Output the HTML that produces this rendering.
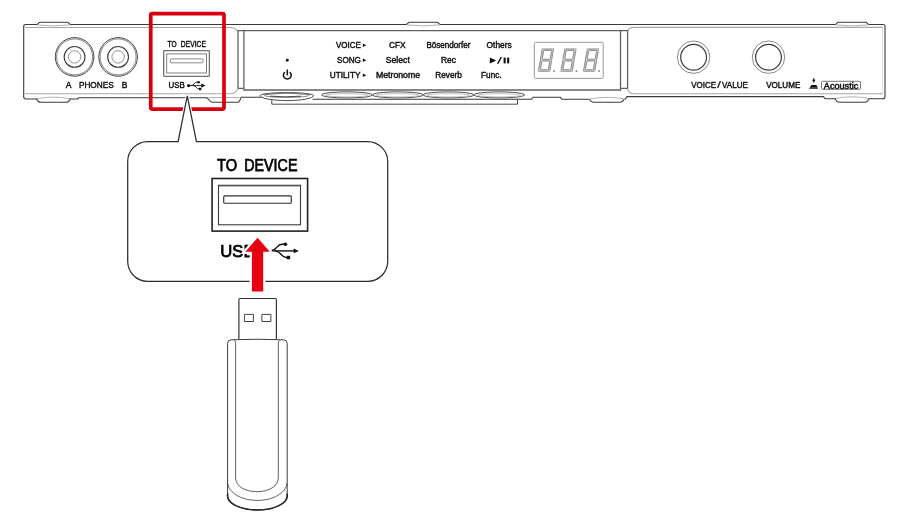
<!DOCTYPE html>
<html lang="en"><head><meta charset="utf-8"><title>USB TO DEVICE connection</title>
<style>
html,body{margin:0;padding:0;background:#fff}
body{width:900px;height:520px;overflow:hidden}
svg{display:block}
svg text{filter:grayscale(1)}
svg text{font-family:"Liberation Sans",Arial,Helvetica,sans-serif}
</style></head><body>
<svg width="900" height="520" viewBox="0 0 900 520">
<rect width="900" height="520" fill="#fff"/>
<!-- instrument panel outline -->
<g fill="none" stroke="#3a3a3a" stroke-width="1.1" stroke-linejoin="round" stroke-linecap="round">
<path d="M25.7 24.5 H883 Q885 24.5 885 26.5 V96.7 Q885 98.7 883 98.7 H825 L823.5 96.6 H627"/>
<path d="M25.7 24.5 Q23.7 24.5 23.7 26.5 V96.8 Q23.7 99 25.9 99 H77.5 L79 97.8 H207 "/>
<path d="M241 97.3 H261"/>
<path d="M313 99.3 H531.5 L533 97.2 H560.3 L561.8 99.2 H588.5"/>
<path d="M625.2 99.2 L627 96.7"/>
</g>
<g fill="#fff" stroke="#3a3a3a" stroke-width="1.1" stroke-linejoin="round" stroke-linecap="round">
<rect x="37.1" y="23" width="33.2" height="3" stroke="none"/>
<path d="M36.8 24.5 C38.1 24.4 38.3 22.3 40.3 22.3 H67.1 C69.1 22.3 69.3 24.4 70.6 24.5" />
<rect x="406.5" y="23" width="33.5" height="3" stroke="none"/>
<path d="M406.2 24.5 C407.5 24.4 407.7 22.3 409.7 22.3 H436.8 C438.8 22.3 439 24.4 440.3 24.5" />
<rect x="835.6" y="23" width="33.0" height="3" stroke="none"/>
<path d="M835.3 24.5 C836.6 24.4 836.8 22.3 838.8 22.3 H865.4 C867.4 22.3 867.6 24.4 868.9 24.5" />
<rect x="37.1" y="97.5" width="32.7" height="3" stroke="none"/>
<path d="M36.7 99 C37.5 101.4 38.9 102.3 41.1 102.3 H65.8 C68.0 102.3 69.4 101.4 70.2 99"/>
<rect x="590" y="97.7" width="33.7" height="3" stroke="none"/>
<path d="M589.6 99.2 C590.4 101.6 591.8 102.3 594 102.3 H619.7 C621.9 102.3 623.3 101.6 624.1 99.2"/>
<rect x="835.6" y="97.2" width="33.0" height="3" stroke="none"/>
<path d="M835.2 98.7 C836.0 101.1 837.4 102.3 839.6 102.3 H864.6 C866.8 102.3 868.2 101.1 869.0 98.7"/>
<path d="M206.5 97.8 C209.2 98 208.8 102.3 212.5 102.3 H237.8 C239.6 102.3 240.2 100 241 97.4"/>
</g>
<g fill="none" stroke="#a8a8a8" stroke-width="1.1">
<path d="M25 27.5 H231 Q235 27.8 238 31"/>
<path d="M25 93.7 H231 Q235 93.4 238 89"/>
<path d="M627.6 31 Q629 27.4 634 27.4 H883"/>
<path d="M627.6 89 Q629 93.7 634 93.7 H883"/>
<path d="M882.6 28 V93" stroke="#e4e4e4"/>
<path d="M208.5 97.6 H240.8" stroke-width="0.9"/>
<path d="M37.1 98.7 Q53.45 95.6 69.8 98.7" stroke-width="0.9"/>
<path d="M590 98.9 Q606.85 95.8 623.7 98.9" stroke-width="0.9"/>
<path d="M835.6 98.4 Q852.1 95.3 868.6 98.4" stroke-width="0.9"/>
<path d="M37.1 24.9 Q53.7 26.9 70.3 24.9" stroke-width="0.9"/>
<path d="M406.5 24.9 Q423.25 26.9 440 24.9" stroke-width="0.9"/>
<path d="M835.6 24.9 Q852.1 26.9 868.6 24.9" stroke-width="0.9"/>
</g>
<!-- centre control panel frame -->
<g fill="none" stroke="#606060" stroke-width="1.3">
<path d="M238 88.4 V30.7 H627.6 V88.4"/>
<path d="M243.9 30.7 V90 H620.5 V30.7"/>
<path d="M238 88.4 H243.9 M620.5 88.4 H627.6"/>
</g>
<!-- push buttons (seen edge-on) -->
<g fill="#fff" stroke="#3a3a3a" stroke-width="0.9">
<path d="M271.8 99.5 V104.2 H517.5 V99.5" fill="none"/>
<path d="M260.2 95.5 A26.7 2.9 0 0 1 313.6 95.5 A26.7 5.1 0 0 1 260.2 95.5Z"/>
<ellipse cx="286.6" cy="95.3" rx="22.3" ry="2.1" stroke="#6a6a6a" stroke-width="0.8"/>
<path d="M263 94.6 Q287 91.6 311 94.6" fill="none" stroke="#6a6a6a" stroke-width="0.7"/>
<path d="M270 96.2 Q286 97.4 301 96.2" fill="none" stroke="#3a3a3a" stroke-width="0.9"/>
<ellipse cx="347.00" cy="94.9" rx="25.4" ry="3"/>
<ellipse cx="347.00" cy="95.3" rx="21.5" ry="1.6" stroke="#a8a8a8" stroke-width="0.7"/>
<ellipse cx="397.75" cy="94.9" rx="25.4" ry="3"/>
<ellipse cx="397.75" cy="95.3" rx="21.5" ry="1.6" stroke="#a8a8a8" stroke-width="0.7"/>
<ellipse cx="448.50" cy="94.9" rx="25.4" ry="3"/>
<ellipse cx="448.50" cy="95.3" rx="21.5" ry="1.6" stroke="#a8a8a8" stroke-width="0.7"/>
<ellipse cx="499.25" cy="94.9" rx="25.4" ry="3"/>
<ellipse cx="499.25" cy="95.3" rx="21.5" ry="1.6" stroke="#a8a8a8" stroke-width="0.7"/>
</g>
<!-- headphone jacks -->
<circle cx="74.6" cy="56.9" r="19.3" fill="#fff" stroke="#444" stroke-width="1"/>
<circle cx="74.6" cy="56.9" r="18.0" fill="none" stroke="#666" stroke-width="0.8"/>
<circle cx="74.6" cy="56.9" r="10.4" fill="none" stroke="#3a3a3a" stroke-width="1.1"/>
<circle cx="74.6" cy="56.9" r="6.2" fill="none" stroke="#777" stroke-width="0.8"/>
<circle cx="118.1" cy="56.9" r="19.3" fill="#fff" stroke="#444" stroke-width="1"/>
<circle cx="118.1" cy="56.9" r="18.0" fill="none" stroke="#666" stroke-width="0.8"/>
<circle cx="118.1" cy="56.9" r="10.4" fill="none" stroke="#3a3a3a" stroke-width="1.1"/>
<circle cx="118.1" cy="56.9" r="6.2" fill="none" stroke="#777" stroke-width="0.8"/>
<!-- knobs -->
<circle cx="693.6" cy="57.2" r="16.2" fill="#fff" stroke="#6a6a6a" stroke-width="0.8"/>
<circle cx="693.6" cy="57.2" r="12.9" fill="none" stroke="#3a3a3a" stroke-width="1.2"/>
<circle cx="768.5" cy="57.2" r="16.2" fill="#fff" stroke="#6a6a6a" stroke-width="0.8"/>
<circle cx="768.5" cy="57.2" r="12.9" fill="none" stroke="#3a3a3a" stroke-width="1.2"/>
<!-- panel labels -->
<text x="65.80" y="88.20" font-size="8.6" font-weight="normal" textLength="5.70" lengthAdjust="spacingAndGlyphs" fill="#111" stroke="#111" stroke-width="0.42">A</text>
<text x="78.90" y="88.20" font-size="8.6" font-weight="normal" textLength="34.80" lengthAdjust="spacingAndGlyphs" fill="#111" stroke="#111" stroke-width="0.42">PHONES</text>
<text x="121.80" y="88.20" font-size="8.6" font-weight="normal" textLength="5.60" lengthAdjust="spacingAndGlyphs" fill="#111" stroke="#111" stroke-width="0.42">B</text>
<text x="167.50" y="47.10" font-size="8.3" font-weight="normal" textLength="9.00" lengthAdjust="spacingAndGlyphs" fill="#111" stroke="#111" stroke-width="0.42">TO</text>
<text x="180.80" y="47.10" font-size="8.3" font-weight="normal" textLength="25.10" lengthAdjust="spacingAndGlyphs" fill="#111" stroke="#111" stroke-width="0.42">DEVICE</text>
<text x="168.50" y="88.30" font-size="8.4" font-weight="normal" textLength="16.30" lengthAdjust="spacingAndGlyphs" fill="#111" stroke="#111" stroke-width="0.42">USB</text>
<text x="335.90" y="48.30" font-size="8.3" font-weight="normal" textLength="25.00" lengthAdjust="spacingAndGlyphs" fill="#111" stroke="#111" stroke-width="0.42">VOICE</text>
<text x="337.10" y="63.20" font-size="8.3" font-weight="normal" textLength="23.80" lengthAdjust="spacingAndGlyphs" fill="#111" stroke="#111" stroke-width="0.42">SONG</text>
<text x="329.80" y="78.40" font-size="8.3" font-weight="normal" textLength="30.60" lengthAdjust="spacingAndGlyphs" fill="#111" stroke="#111" stroke-width="0.42">UTILITY</text>
<text x="389.00" y="48.30" font-size="8.3" font-weight="normal" textLength="16.60" lengthAdjust="spacingAndGlyphs" fill="#111" stroke="#111" stroke-width="0.42">CFX</text>
<text x="385.80" y="63.20" font-size="8.3" font-weight="normal" textLength="24.00" lengthAdjust="spacingAndGlyphs" fill="#111" stroke="#111" stroke-width="0.42">Select</text>
<text x="376.00" y="78.40" font-size="8.3" font-weight="normal" textLength="44.00" lengthAdjust="spacingAndGlyphs" fill="#111" stroke="#111" stroke-width="0.42">Metronome</text>
<text x="426.40" y="48.30" font-size="8.3" font-weight="normal" textLength="44.00" lengthAdjust="spacingAndGlyphs" fill="#111" stroke="#111" stroke-width="0.42">Bösendorfer</text>
<text x="441.00" y="63.20" font-size="8.3" font-weight="normal" textLength="15.00" lengthAdjust="spacingAndGlyphs" fill="#111" stroke="#111" stroke-width="0.42">Rec</text>
<text x="435.30" y="78.40" font-size="8.3" font-weight="normal" textLength="26.50" lengthAdjust="spacingAndGlyphs" fill="#111" stroke="#111" stroke-width="0.42">Reverb</text>
<text x="486.60" y="48.30" font-size="8.3" font-weight="normal" textLength="25.10" lengthAdjust="spacingAndGlyphs" fill="#111" stroke="#111" stroke-width="0.42">Others</text>
<text x="481.10" y="78.40" font-size="8.3" font-weight="normal" textLength="20.50" lengthAdjust="spacingAndGlyphs" fill="#111" stroke="#111" stroke-width="0.42">Func.</text>
<text x="691.20" y="88.40" font-size="8.6" font-weight="normal" textLength="24.80" lengthAdjust="spacingAndGlyphs" fill="#111" stroke="#111" stroke-width="0.42">VOICE</text>
<text x="717.00" y="88.40" font-size="8.6" font-weight="normal" textLength="4.00" lengthAdjust="spacingAndGlyphs" fill="#111" stroke="#111" stroke-width="0.15">/</text>
<text x="722.10" y="88.40" font-size="8.6" font-weight="normal" textLength="25.70" lengthAdjust="spacingAndGlyphs" fill="#111" stroke="#111" stroke-width="0.42">VALUE</text>
<text x="766.20" y="88.40" font-size="8.6" font-weight="normal" textLength="34.10" lengthAdjust="spacingAndGlyphs" fill="#111" stroke="#111" stroke-width="0.42">VOLUME</text>
<text x="823.80" y="88.50" font-size="8.5" font-weight="normal" textLength="34.50" lengthAdjust="spacingAndGlyphs" fill="#111" stroke="#111" stroke-width="0.5">Acoustic</text>
<path d="M362.8 43.5 L366.3 45.3 L362.8 47.1Z" fill="#111"/>
<path d="M362.8 58.4 L366.3 60.2 L362.8 62.0Z" fill="#111"/>
<path d="M362.8 73.5 L366.3 75.3 L362.8 77.1Z" fill="#111"/>
<path d="M489.8 57.5 L496.3 60.5 L489.8 63.5Z" fill="#111"/>
<path d="M496.9 63.8 L500.5 57.1 H502.1 L498.5 63.8Z" fill="#111"/>
<rect x="503.6" y="57.6" width="2.1" height="5.8" fill="#111"/><rect x="507.1" y="57.6" width="2.1" height="5.8" fill="#111"/>
<circle cx="287.3" cy="60.2" r="1.45" fill="#111"/>
<path d="M284.9 72.1 A3.9 3.9 0 1 0 289.7 72.1" fill="none" stroke="#111" stroke-width="1.5"/>
<path d="M287.3 69.5 V75.4" stroke="#111" stroke-width="1.5"/>
<!-- 7-segment display -->
<rect x="534.3" y="42.3" width="68.9" height="36.1" rx="1.2" fill="#fff" stroke="#9a9a9a" stroke-width="1"/>
<path d="M542.99 49.75 L552.59 49.75 L549.01 70.55 L539.41 70.55Z M541.20 60.15 L550.80 60.15" fill="none" stroke="#848484" stroke-width="2.6" stroke-linejoin="miter"/>
<path d="M542.99 49.75 L552.59 49.75 L549.01 70.55 L539.41 70.55Z M541.20 60.15 L550.80 60.15" fill="none" stroke="#b8b8b8" stroke-width="1.2" stroke-linejoin="miter"/>
<path d="M541.49 48.25 L544.49 51.25 M554.09 48.25 L551.09 51.25 M537.91 72.05 L540.91 69.05 M550.51 72.05 L547.51 69.05 M542.60 58.85 L541.00 60.15 L542.60 61.45 M549.40 58.85 L551.00 60.15 L549.40 61.45" fill="none" stroke="#fff" stroke-width="0.45"/>
<rect x="553.2" y="70.2" width="1.7" height="1.7" fill="#8a8a8a"/>
<path d="M565.49 49.75 L575.09 49.75 L571.51 70.55 L561.91 70.55Z M563.70 60.15 L573.30 60.15" fill="none" stroke="#848484" stroke-width="2.6" stroke-linejoin="miter"/>
<path d="M565.49 49.75 L575.09 49.75 L571.51 70.55 L561.91 70.55Z M563.70 60.15 L573.30 60.15" fill="none" stroke="#b8b8b8" stroke-width="1.2" stroke-linejoin="miter"/>
<path d="M563.99 48.25 L566.99 51.25 M576.59 48.25 L573.59 51.25 M560.41 72.05 L563.41 69.05 M573.01 72.05 L570.01 69.05 M565.10 58.85 L563.50 60.15 L565.10 61.45 M571.90 58.85 L573.50 60.15 L571.90 61.45" fill="none" stroke="#fff" stroke-width="0.45"/>
<rect x="575.7" y="70.2" width="1.7" height="1.7" fill="#8a8a8a"/>
<path d="M587.99 49.75 L597.59 49.75 L594.01 70.55 L584.41 70.55Z M586.20 60.15 L595.80 60.15" fill="none" stroke="#848484" stroke-width="2.6" stroke-linejoin="miter"/>
<path d="M587.99 49.75 L597.59 49.75 L594.01 70.55 L584.41 70.55Z M586.20 60.15 L595.80 60.15" fill="none" stroke="#b8b8b8" stroke-width="1.2" stroke-linejoin="miter"/>
<path d="M586.49 48.25 L589.49 51.25 M599.09 48.25 L596.09 51.25 M582.91 72.05 L585.91 69.05 M595.51 72.05 L592.51 69.05 M587.60 58.85 L586.00 60.15 L587.60 61.45 M594.40 58.85 L596.00 60.15 L594.40 61.45" fill="none" stroke="#fff" stroke-width="0.45"/>
<rect x="598.2" y="70.2" width="1.7" height="1.7" fill="#8a8a8a"/>
<!-- USB TO DEVICE port on panel -->
<rect x="163.7" y="50.7" width="45.7" height="25.6" rx="0.8" fill="#fff" stroke="#707070" stroke-width="1.3"/>
<rect x="166.7" y="53.9" width="39.8" height="19.1" fill="none" stroke="#707070" stroke-width="0.9"/>
<rect x="170.4" y="58.9" width="32.7" height="3.9" rx="0.5" fill="none" stroke="#707070" stroke-width="0.8"/>
<g transform="translate(187.0,85.6) scale(1.0)" fill="#111" stroke="none"><circle cx="1.55" cy="0" r="1.55"/><path d="M1.5 0 H14.8" stroke="#111" stroke-width="0.9" fill="none"/><path d="M18.5 0 L14.3 -2.05 V2.05Z"/><path d="M4.0 0 C7 0 7.2 -3.4 9.8 -3.4 H11.2" stroke="#111" stroke-width="0.9" fill="none"/><circle cx="11.6" cy="-3.4" r="1.3"/><path d="M6.4 0 C9.2 0 9.4 3.4 12 3.4 H12.6" stroke="#111" stroke-width="0.9" fill="none"/><rect x="11.95" y="2.2" width="2.4" height="2.4"/></g>
<path d="M813.8 77.9 V80.2" stroke="#111" stroke-width="1.05"/>
<path d="M812.2 79.8 H815.4 L813.8 83.1Z" fill="#111"/>
<path d="M811.3 85.1 H816.4 L818.2 88.7 H809Z" fill="#111"/>
<path d="M809.6 87.7 H817.7" stroke="#fff" stroke-width="0.3"/>
<rect x="821.5" y="81.3" width="39" height="8" rx="1" fill="none" stroke="#555" stroke-width="0.8"/>
<!-- red highlight frame -->
<rect x="150.75" y="13.55" width="73.25" height="95.5" rx="1.6" fill="none" stroke="#d7000f" stroke-width="3.7"/>
<!-- enlarged callout -->
<path d="M178.1 141.5 L187.3 95.8 L196.4 141.5Z" fill="#fff" stroke="#fff" stroke-width="3.4" stroke-linejoin="miter"/>
<path d="M147.7 141.5 H178.1 L187.3 95.9 L196.4 141.5 H367.7 A20 20 0 0 1 387.7 161.5 V261.3 A20 20 0 0 1 367.7 281.3 H147.7 A20 20 0 0 1 127.7 261.3 V161.5 A20 20 0 0 1 147.7 141.5Z" fill="#fff" stroke="#2c2c2c" stroke-width="1.25" stroke-linejoin="miter"/>
<rect x="212.1" y="178.5" width="95.5" height="52.6" fill="#fff" stroke="#222" stroke-width="1.6"/>
<rect x="218.5" y="185.3" width="82" height="39.5" fill="none" stroke="#3a3a3a" stroke-width="1.1"/>
<path d="M218.5 186.1 H300.5" fill="none" stroke="#555" stroke-width="0.7"/>
<rect x="223.7" y="195.9" width="67.6" height="7.4" rx="1" fill="none" stroke="#2e2e2e" stroke-width="1.15"/>
<text x="217.00" y="171.10" font-size="16.8" font-weight="normal" textLength="20.10" lengthAdjust="spacingAndGlyphs" fill="#000" stroke="#000" stroke-width="0.75">TO</text>
<text x="244.30" y="171.10" font-size="16.8" font-weight="normal" textLength="53.10" lengthAdjust="spacingAndGlyphs" fill="#000" stroke="#000" stroke-width="0.75">DEVICE</text>
<text x="220.30" y="257.10" font-size="16.6" font-weight="normal" textLength="34.30" lengthAdjust="spacingAndGlyphs" fill="#000" stroke="#000" stroke-width="0.75">USB</text>
<g transform="translate(262.8,250.9) scale(1.95)" fill="#111" stroke="none"><circle cx="1.55" cy="0" r="1.55"/><path d="M1.5 0 H16.3" stroke="#111" stroke-width="0.72" fill="none"/><path d="M18.5 0 L15.8 -1.2 V1.2Z"/><path d="M4.0 0 C7 0 7.2 -3.4 9.8 -3.4 H11.2" stroke="#111" stroke-width="0.72" fill="none"/><circle cx="11.6" cy="-3.4" r="0.92"/><path d="M6.4 0 C9.2 0 9.4 3.4 12 3.4 H12.6" stroke="#111" stroke-width="0.72" fill="none"/><rect x="12.28" y="2.52" width="1.75" height="1.75"/></g>
<path d="M257.55 237.8 L269.8 251.7 H263.2 V291.5 H251.9 V251.7 H245.3Z" fill="#fff" stroke="#fff" stroke-width="4.4" stroke-linejoin="miter"/>
<path d="M257.55 237.8 L269.8 251.7 H263.2 V291.5 H251.9 V251.7 H245.3Z" fill="#e60012"/>
<!-- USB flash drive -->
<g fill="#fff" stroke="#2e2e2e" stroke-width="1.15" stroke-linejoin="round">
<path d="M238.9 339.5 V299.5 Q238.9 298.5 239.9 298.5 H275.4 Q276.4 298.5 276.4 299.5 V339.5"/>
<rect x="244.4" y="314.4" width="9" height="7.1" stroke-width="0.9"/>
<rect x="261.9" y="314.4" width="9" height="7.1" stroke-width="0.9"/>
<path d="M231.2 339.8 Q257.4 338.7 283.6 339.8 Q287.2 340.1 287.2 343.3 V496 C287.2 503 275 510 257.4 510 C239.5 510 227.6 503 227.6 496 V343.3 Q227.6 340.1 231.2 339.8Z" stroke="#3c3c3c" stroke-width="1.0"/>
<path d="M287.2 494 V496 C287.2 503 275 510 257.4 510 C239.5 510 227.6 503 227.6 496 V494" fill="none" stroke="#262626" stroke-width="1.6" stroke-linecap="round"/>
</g>
<g fill="none" stroke="#444" stroke-width="0.85">
<path d="M234.4 340.1 Q235.6 341 235.6 343.5 V478 C235.6 486 245 491.7 257 491.7 C269 491.7 278.3 486 278.3 478 V343.5 Q278.3 341 279.6 340.1"/>
<path d="M227.6 483 C229 493.5 242 500.4 257.4 500.4 C272.5 500.4 285.8 493.5 287.2 483"/>
</g>
</svg>
</body></html>
